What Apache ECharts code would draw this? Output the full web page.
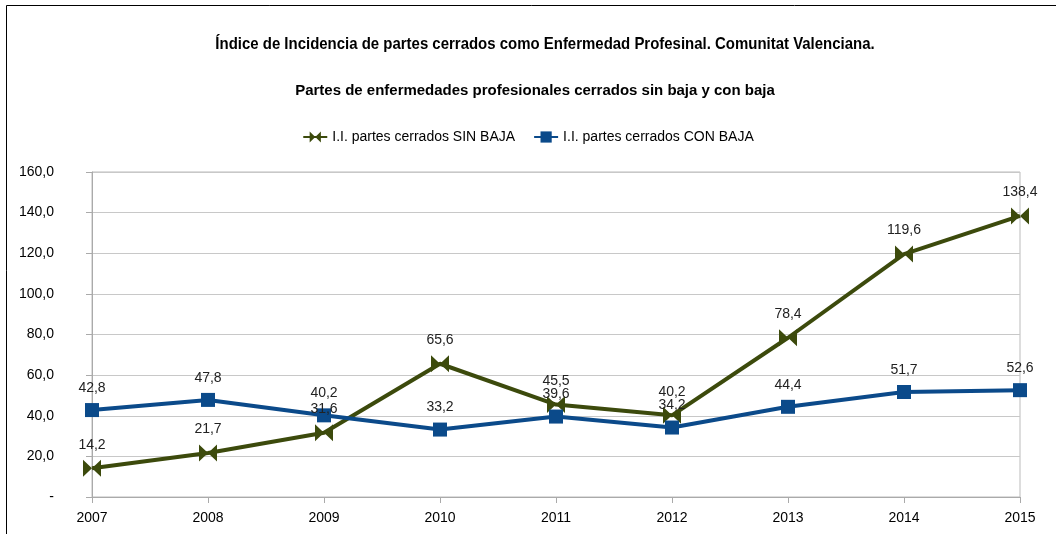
<!DOCTYPE html>
<html>
<head>
<meta charset="utf-8">
<script src="https://cdn.jsdelivr.net/npm/echarts@6/dist/echarts.min.js"></script>
<style>
html, body { margin: 0; padding: 0; background: #fff; }
#chart { width: 1056px; height: 534px; }
</style>
</head>
<body>
<div id="chart"></div>
<script>
var years = ['2007', '2008', '2009', '2010', '2011', '2012', '2013', '2014', '2015'];
var sinBaja = [14.2, 21.7, 31.6, 65.6, 45.5, 40.2, 78.4, 119.6, 138.4];
var conBaja = [42.8, 47.8, 40.2, 33.2, 39.6, 34.2, 44.4, 51.7, 52.6];
var seriesNames = ['I.I. partes cerrados SIN BAJA', 'I.I. partes cerrados CON BAJA'];

var font = "'Liberation Sans', Arial, sans-serif";
var green = '#3c4a0c';
var blue = '#0b4a8a';
var bowtie = 'path://M0,0 L10,8 L0,16 Z M20,0 L10,8 L20,16 Z';

function fmt(v) {
    return v.toFixed(1).replace('.', ',');
}

var labelStyle = {
    show: true,
    position: 'top',
    distance: 8,
    fontFamily: font,
    fontSize: 14,
    color: '#222',
    formatter: function (p) { return fmt(p.value); }
};

var chart = echarts.init(document.getElementById('chart'));
chart.setOption({
    animation: false,
    backgroundColor: '#fff',
    graphic: [{
        type: 'rect',
        shape: { x: 6.5, y: 5.5, width: 1060, height: 540 },
        style: { fill: 'none', stroke: '#000', lineWidth: 1 }
    }, {
        // condensed title, the narrow face is not installed
        type: 'text',
        x: 545, y: 36,
        scaleX: 0.88,
        style: {
            text: 'Índice de Incidencia de partes cerrados como Enfermedad Profesinal. Comunitat Valenciana.',
            fontFamily: font, fontSize: 17, fontWeight: 'bold', fill: '#000',
            textAlign: 'center', textVerticalAlign: 'top'
        }
    }, {
        type: 'text',
        x: 535, y: 84,
        scaleX: 1.07,
        style: {
            text: 'Partes de enfermedades profesionales cerrados sin baja y con baja',
            fontFamily: font, fontSize: 14, fontWeight: 'bold', fill: '#000',
            textAlign: 'center', textVerticalAlign: 'top'
        }
    }],
    legend: {
        top: 125,
        left: 'center',
        itemGap: 18,
        itemWidth: 24,
        itemHeight: 14,
        data: seriesNames,
        textStyle: { fontFamily: font, fontSize: 14, color: '#000' }
    },
    grid: {
        left: 92, right: 36, top: 172, bottom: 37,
        show: true, borderColor: '#bbb', borderWidth: 1
    },
    xAxis: {
        type: 'category',
        data: years,
        boundaryGap: false,
        axisLine: { lineStyle: { color: '#aaa' } },
        axisTick: { show: true, length: 6, lineStyle: { color: '#aaa' } },
        axisLabel: { fontFamily: font, fontSize: 14, color: '#000', margin: 14 },
        splitLine: { show: false }
    },
    yAxis: {
        type: 'value',
        min: 0, max: 160, interval: 20,
        axisLine: { show: true, lineStyle: { color: '#aaa' } },
        axisTick: { show: true, length: 6, lineStyle: { color: '#aaa' } },
        axisLabel: {
            fontFamily: font, fontSize: 14, color: '#000', margin: 38,
            formatter: function (v) { return v === 0 ? '-' : fmt(v); }
        },
        splitLine: { lineStyle: { color: '#c8c8c8' } }
    },
    series: [{
        name: seriesNames[0],
        type: 'line',
        data: sinBaja,
        color: green,
        symbol: bowtie,
        symbolSize: [18, 17],
        lineStyle: { width: 4, color: green },
        itemStyle: { color: green },
        label: labelStyle
    }, {
        name: seriesNames[1],
        type: 'line',
        data: conBaja,
        color: blue,
        symbol: 'rect',
        symbolSize: 14,
        lineStyle: { width: 4, color: blue },
        itemStyle: { color: blue },
        label: labelStyle
    }]
});
</script>
</body>
</html>
